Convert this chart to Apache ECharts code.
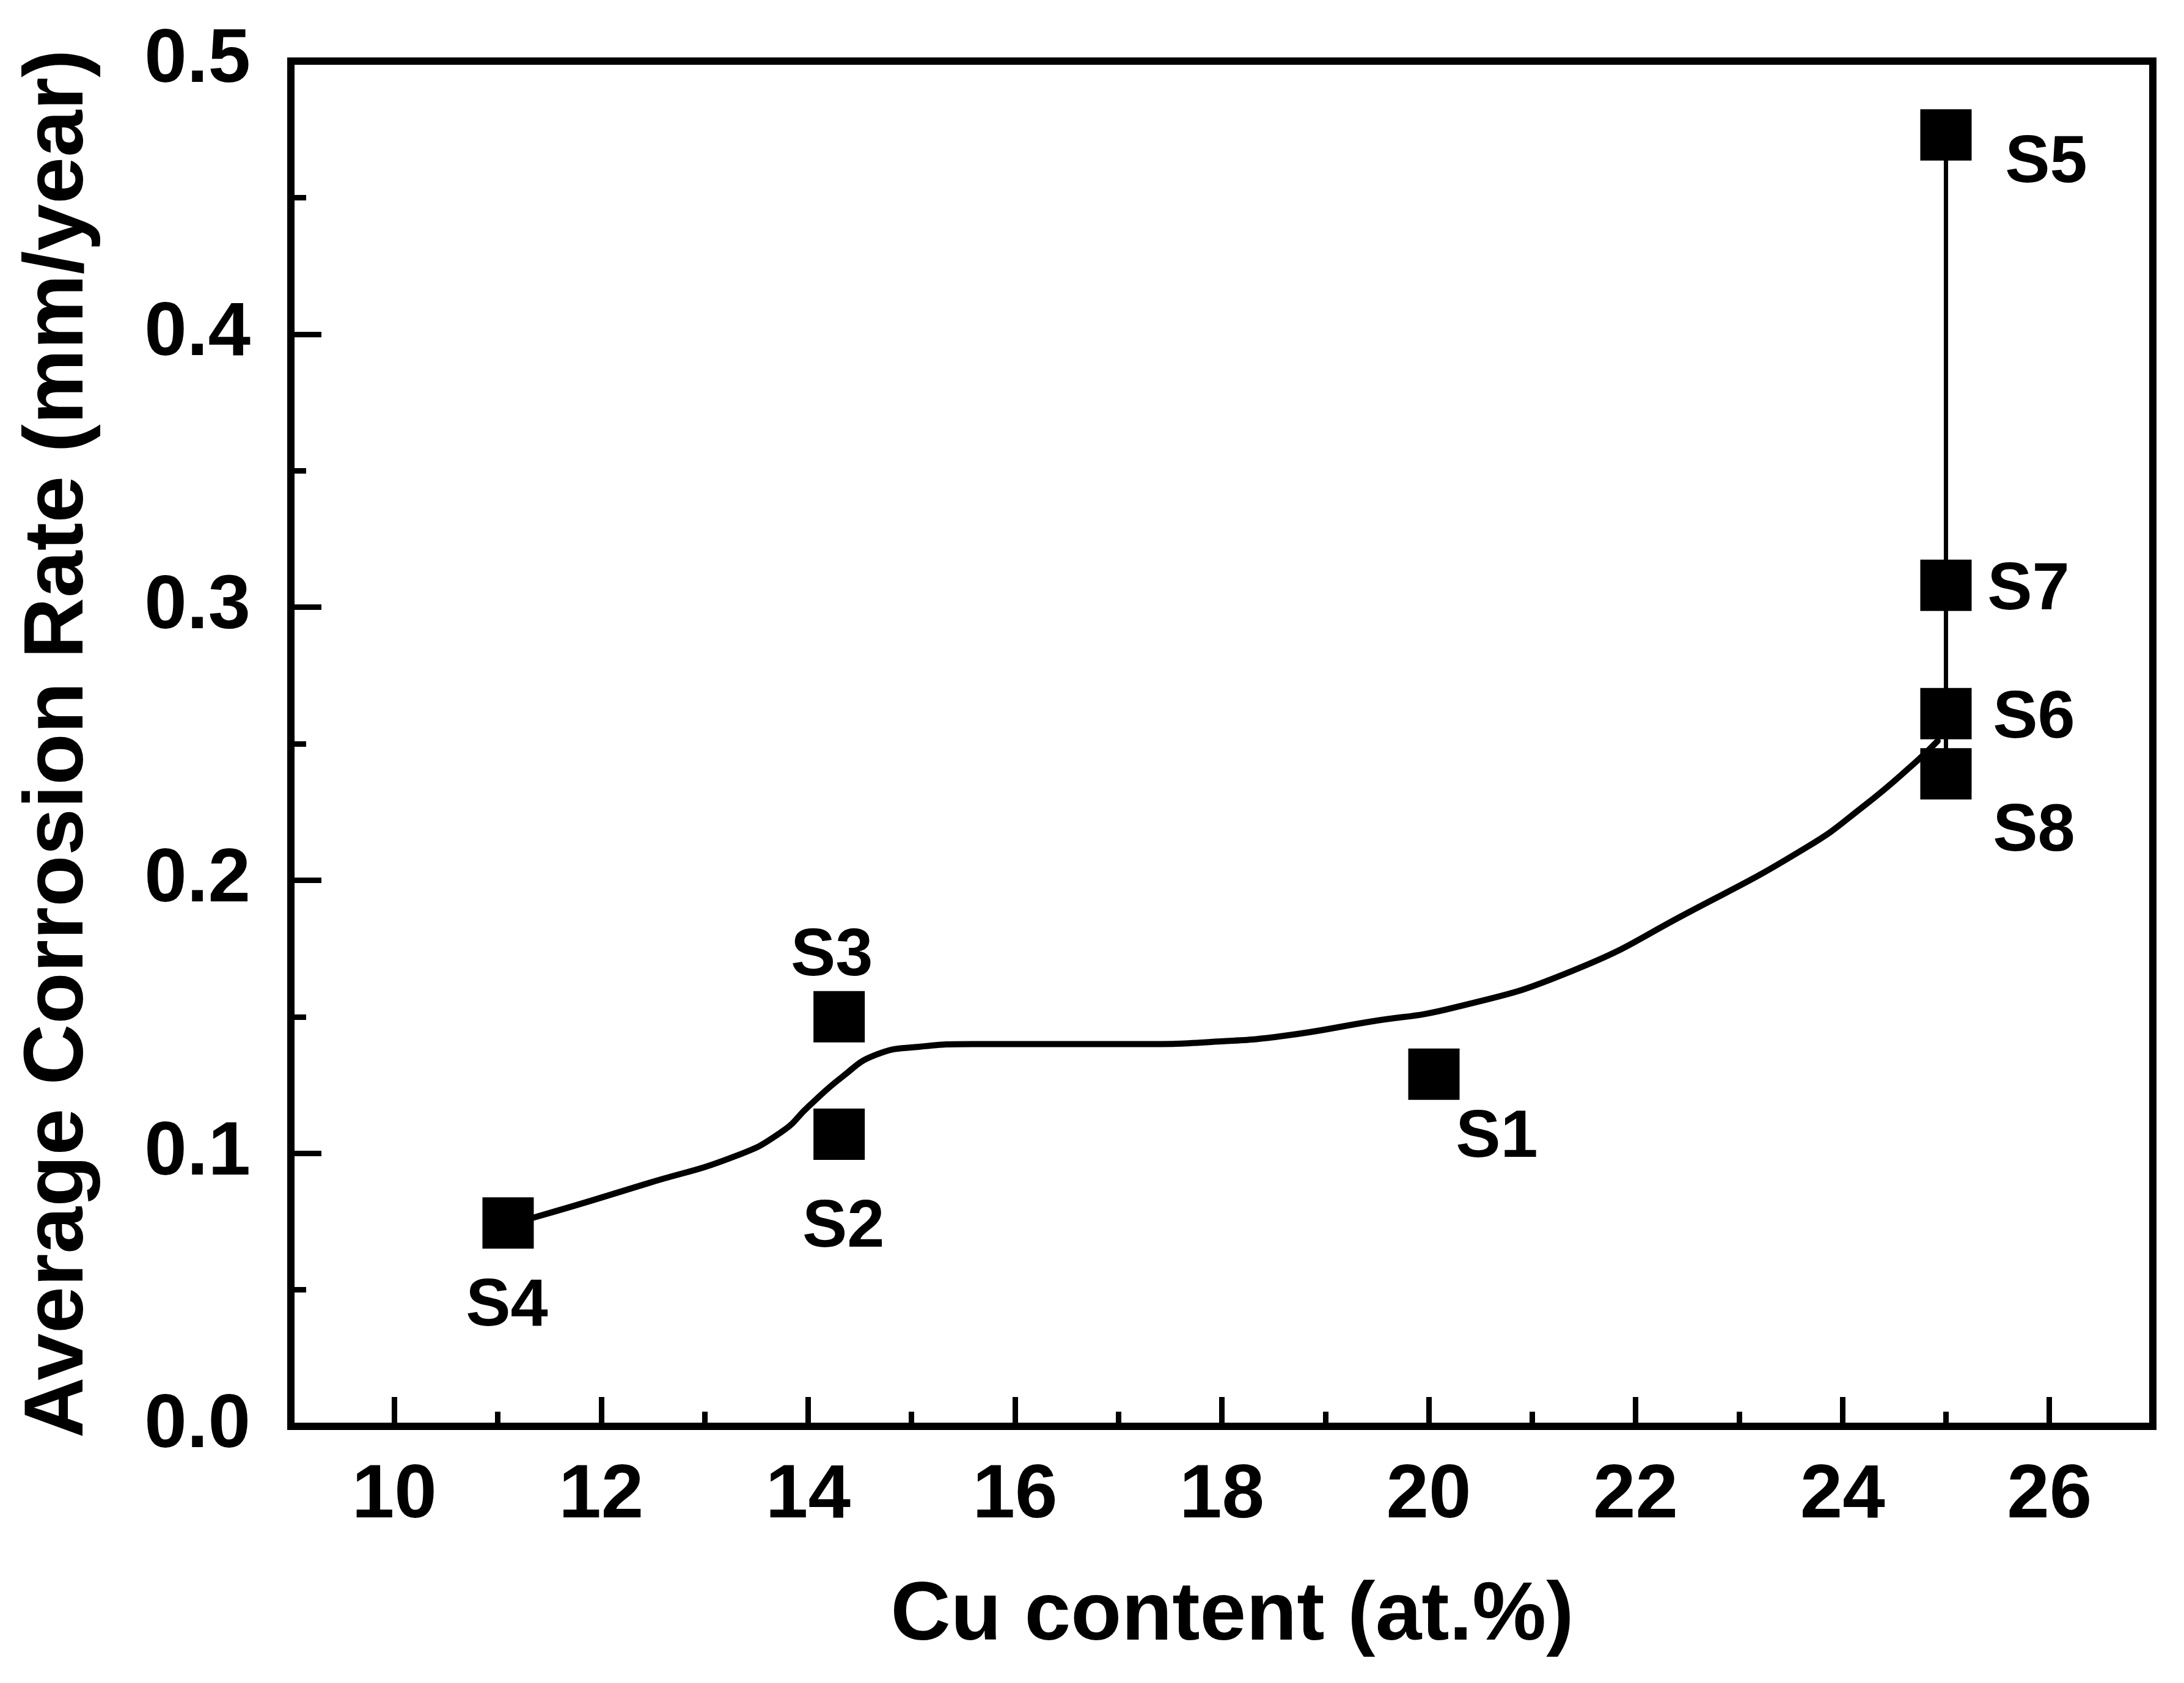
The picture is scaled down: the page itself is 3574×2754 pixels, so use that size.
<!DOCTYPE html>
<html>
<head>
<meta charset="utf-8">
<title>Average Corrosion Rate vs Cu content</title>
<script src="https://cdn.jsdelivr.net/npm/echarts@6/dist/echarts.min.js"></script>
<style>
  html, body { margin: 0; padding: 0; background: #fff; }
  #chart { width: 3574px; height: 2754px; }
</style>
</head>
<body>
<div id="chart"></div>
<script>
// samples
var sampleNames = ['S1', 'S2', 'S3', 'S4', 'S5', 'S6', 'S7', 'S8'];
var cuContent   = [20.05, 14.3, 14.3, 11.1, 25.0, 25.0, 25.0, 25.0];
var corrRate    = [0.129, 0.107, 0.150, 0.0745, 0.473, 0.261, 0.308, 0.239];

// guide curve through the data (traced)
var curveX = [11.1, 11.35, 12.45, 13.3, 13.75, 14.0, 14.33, 14.65, 15.07, 15.6, 17.2, 18.0, 18.6, 19.4, 20.26, 21.4, 22.5, 23.65, 24.2, 24.7, 24.92];
var curveY = [0.0745, 0.0765, 0.089, 0.099, 0.108, 0.117, 0.128, 0.136, 0.139, 0.140, 0.140, 0.141, 0.143, 0.148, 0.1535, 0.167, 0.188, 0.212, 0.227, 0.243, 0.251];

// vertical line at 25 at.%
var dropX = [25.0, 25.0];
var dropY = [0.248, 0.473];

// axis ticks
var xMajorTicks = [10, 12, 14, 16, 18, 20, 22, 24, 26];
var xMinorTicks = [11, 13, 15, 17, 19, 21, 23, 25];

// label offsets from the marker centre (px)
var labelOffset = {
    S1: [103, 105], S2: [7, 154], S3: [-12, -98], S4: [-2, 138],
    S5: [164, 47], S6: [144, 9], S7: [135, 9], S8: [144, 96]
};

var font = "'Liberation Sans', Arial, Helvetica, sans-serif";

function zip(a, b) {
    return a.map(function (v, i) { return [v, b[i]]; });
}

var myChart = echarts.init(document.getElementById('chart'), null, { renderer: 'canvas' });

var points = sampleNames.map(function (n, i) {
    return {
        name: n,
        value: [cuContent[i], corrRate[i]],
        label: { offset: labelOffset[n] }
    };
});

var option = {
    backgroundColor: '#fff',
    animation: false,
    grid: {
        left: 476, right: 51, top: 100, bottom: 420,
        show: true, borderColor: '#000', borderWidth: 12, backgroundColor: 'transparent'
    },
    xAxis: [
        {
            type: 'value', min: 9, max: 27,
            name: 'Cu content (at.%)',
            nameLocation: 'middle',
            nameGap: 243,
            nameTextStyle: { fontFamily: font, fontWeight: 'bold', fontSize: 136, color: '#000', padding: [0, 0, 0, 34] },
            axisLine: { show: true, onZero: false, lineStyle: { color: '#000', width: 12 } },
            axisTick: { show: true, inside: true, length: 48, customValues: xMajorTicks, lineStyle: { color: '#000', width: 9 } },
            axisLabel: {
                show: true, margin: 52, customValues: xMajorTicks,
                fontFamily: font, fontWeight: 'bold', fontSize: 125, color: '#000'
            },
            splitLine: { show: false }
        },
        {
            type: 'value', min: 9, max: 27, position: 'bottom',
            axisLine: { show: false },
            axisTick: { show: true, inside: true, length: 24, customValues: xMinorTicks, lineStyle: { color: '#000', width: 9 } },
            axisLabel: { show: false },
            splitLine: { show: false }
        }
    ],
    yAxis: {
        type: 'value', min: 0, max: 0.5, interval: 0.1,
        name: 'Average Corrosion Rate (mm/year)',
        nameLocation: 'middle',
        nameGap: 310,
        nameTextStyle: { fontFamily: font, fontWeight: 'bold', fontSize: 138, color: '#000' },
        axisLine: { show: true, onZero: false, lineStyle: { color: '#000', width: 12 } },
        axisTick: { show: true, inside: true, length: 50, lineStyle: { color: '#000', width: 9 } },
        minorTick: { show: true, splitNumber: 2, length: 25, lineStyle: { color: '#000', width: 9 } },
        axisLabel: {
            margin: 66,
            fontFamily: font, fontWeight: 'bold', fontSize: 125, color: '#000',
            formatter: function (v) { return v.toFixed(1); }
        },
        splitLine: { show: false },
        minorSplitLine: { show: false }
    },
    series: [
        {
            name: 'fit',
            type: 'line',
            data: zip(curveX, curveY),
            smooth: 0.5,
            showSymbol: false,
            symbol: 'none',
            lineStyle: { color: '#000', width: 10, cap: 'round', join: 'round' },
            z: 2
        },
        {
            name: 'drop',
            type: 'line',
            data: zip(dropX, dropY),
            showSymbol: false,
            symbol: 'none',
            lineStyle: { color: '#000', width: 7 },
            z: 2
        },
        {
            name: 'samples',
            type: 'scatter',
            data: points,
            symbol: 'rect',
            symbolSize: 84,
            itemStyle: { color: '#000', opacity: 1 },
            label: {
                show: true,
                position: 'inside',
                align: 'center',
                verticalAlign: 'middle',
                formatter: '{b}',
                fontFamily: font, fontWeight: 'bold', fontSize: 110, color: '#000'
            },
            z: 3
        }
    ]
};

myChart.setOption(option);
</script>
</body>
</html>
